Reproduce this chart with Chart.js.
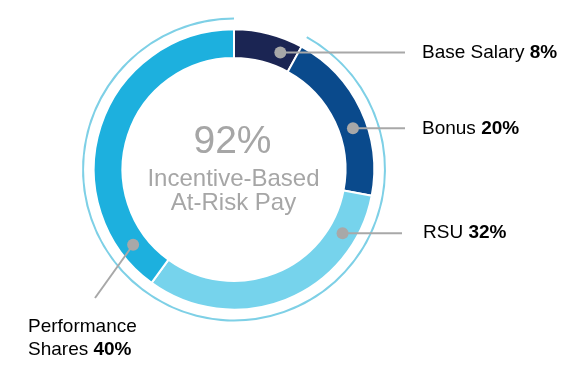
<!DOCTYPE html>
<html>
<head>
<meta charset="utf-8">
<script src="https://cdn.jsdelivr.net/npm/chart.js@4.4.1/dist/chart.umd.min.js"></script>
<style>
  html, body { margin: 0; padding: 0; background: #ffffff; }
  #wrap { position: relative; width: 570px; height: 371px; }
  canvas { display: block; }
</style>
</head>
<body>
<div id="wrap"><canvas id="c" width="570" height="371"></canvas></div>
<script>
// ---- Data ----
const categories = ['Base Salary', 'Bonus', 'RSU', 'Performance Shares'];
const shares = [8, 20, 32, 40];
const valueLabels = ['8%', '20%', '32%', '40%'];
const outerArcData = [8, 92];           // fixed pay vs incentive-based at-risk pay
const centerValue = '92%';
const centerLines = ['Incentive-Based', 'At-Risk Pay'];

// ---- Styles / layout ----
const segColors = ['#1b2553', '#0a4a8c', '#76d3ec', '#1db0de'];
const arcColor = '#7ed0e6';
const grey = '#a8a8a8';
const FONT = '"Liberation Sans", Arial, Helvetica, sans-serif';

// anchor position of the dot inside each segment (fraction of its sweep)
const dotFrac = [0.75, 0.585, 0.17, 0.12];
// label layout: line end point, text position, text lines
const labelLayout = [
  { lineEnd: 'h', endX: 405, tx: 422, lines: [[categories[0] + ' ', valueLabels[0]]] },
  { lineEnd: 'h', endX: 405, tx: 422, lines: [[categories[1] + ' ', valueLabels[1]]] },
  { lineEnd: 'h', endX: 402, tx: 423, lines: [[categories[2] + ' ', valueLabels[2]]] },
  { lineEnd: 'p', endX: 95, endY: 298, tx: 28, ty: [332, 355],
    lines: [['Performance', ''], ['Shares ', valueLabels[3]]] }
];

const overlay = {
  id: 'overlay',
  afterDatasetsDraw(chart) {
    const ctx = chart.ctx;
    const meta = chart.getDatasetMeta(2);
    // center text
    const cx = meta.data[0].x, cy = meta.data[0].y;
    ctx.save();
    ctx.fillStyle = '#a6a6a6';
    ctx.textAlign = 'center';
    ctx.textBaseline = 'alphabetic';
    ctx.font = '39px ' + FONT;
    ctx.fillText(centerValue, cx - 1.5, 153);
    ctx.font = '24px ' + FONT;
    ctx.fillText(centerLines[0], cx - 0.5, 186);
    ctx.fillText(centerLines[1], cx - 0.5, 210);
    ctx.restore();

    meta.data.forEach((arc, i) => {
      const p = arc.getProps(['x', 'y', 'startAngle', 'endAngle', 'innerRadius', 'outerRadius'], true);
      const a = p.startAngle + dotFrac[i] * (p.endAngle - p.startAngle);
      const r = (p.innerRadius + p.outerRadius) / 2;
      const dx = p.x + Math.cos(a) * r;
      const dy = p.y + Math.sin(a) * r;
      const L = labelLayout[i];
      ctx.save();
      ctx.strokeStyle = grey;
      ctx.lineWidth = 2;
      ctx.beginPath();
      ctx.moveTo(dx, dy);
      if (L.lineEnd === 'h') ctx.lineTo(L.endX, dy);
      else ctx.lineTo(L.endX, L.endY);
      ctx.stroke();
      ctx.fillStyle = grey;
      ctx.beginPath();
      ctx.arc(dx, dy, 6, 0, Math.PI * 2);
      ctx.fill();
      // text
      ctx.fillStyle = '#000000';
      ctx.textAlign = 'left';
      L.lines.forEach((ln, k) => {
        let x = L.tx;
        let y;
        if (L.ty) { ctx.textBaseline = 'alphabetic'; y = L.ty[k]; }
        else { ctx.textBaseline = 'middle'; y = dy; }
        ctx.font = '19px ' + FONT;
        ctx.fillText(ln[0], x, y);
        x += ctx.measureText(ln[0]).width;
        if (ln[1]) {
          ctx.font = 'bold 19px ' + FONT;
          ctx.fillText(ln[1], x, y);
        }
      });
      ctx.restore();
    });
  }
};

new Chart(document.getElementById('c'), {
  type: 'doughnut',
  data: {
    labels: categories,
    datasets: [
      { data: outerArcData, backgroundColor: ['rgba(0,0,0,0)', arcColor], borderWidth: 0, weight: 2 },
      { data: [100], backgroundColor: ['rgba(0,0,0,0)'], borderWidth: 0, weight: 9.5 },
      { data: shares, backgroundColor: segColors, borderColor: '#ffffff', borderWidth: 2, weight: 28 }
    ]
  },
  options: {
    responsive: false,
    animation: false,
    events: [],
    cutout: 111.5,
    hoverOffset: 0,
    offset: 0,
    layout: { padding: { left: 82, right: 184, top: 17.5, bottom: 49.5 } },
    plugins: { legend: { display: false }, tooltip: { enabled: false } }
  },
  plugins: [overlay]
});
</script>
</body>
</html>
